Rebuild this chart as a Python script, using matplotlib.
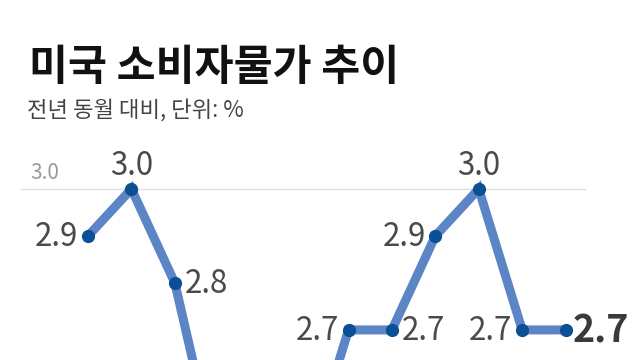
import matplotlib
matplotlib.use("Agg")
import matplotlib.pyplot as plt

plt.rcParams['font.family'] = ['Noto Sans CJK KR', 'DejaVu Sans']

# US CPI, year-on-year change (%)
months = ['24.12', '25.1', '25.2', '25.3', '25.4', '25.5',
          '25.6', '25.7', '25.8', '25.9', '25.11', '25.12']
cpi = [2.9, 3.0, 2.8, 2.4, 2.3, 2.4, 2.7, 2.7, 2.9, 3.0, 2.7, 2.7]
label_side = ['left', 'top', 'right', 'right', 'right', 'left',
              'left', 'right', 'left', 'top', 'left', 'right']
grid_values = [2.0, 2.5, 3.0]

line_color = '#5b85c5'
marker_color = '#0b4f95'
text_color = '#4a4a4a'

fig = plt.figure(figsize=(6.4, 3.6), dpi=100)
fig.patch.set_facecolor('white')

fig.text(29 / 640, 1 - 80 / 360, '미국 소비자물가 추이', fontsize=30.5,
         fontweight='bold', color='#111111', va='baseline')
fig.text(27 / 640, 1 - 117 / 360, '전년 동월 대비, 단위: %', fontsize=16,
         color='#444444', va='baseline')

ax = fig.add_axes([21 / 640, 0, 565 / 640, 210 / 360])
x = list(range(len(cpi)))
ax.plot(x, cpi, color=line_color, lw=6.5, solid_joinstyle='miter',
        solid_capstyle='butt', zorder=3)
ax.plot(x, cpi, 'o', color=marker_color, ms=8.5, zorder=4)

for g in grid_values:
    ax.axhline(g, color='#dddddd', lw=1, zorder=1)
ax.annotate('3.0', (9 / 565, 3.0), xycoords=ax.get_yaxis_transform(),
            xytext=(0, 7), textcoords='offset points',
            fontsize=15, color='#9a9a9a', fontweight='light', va='baseline')

ax.set_xlim(-1.544, 11.47)
ax.set_ylim(2.636, 3.083)
ax.axis('off')

for i, (v, side) in enumerate(zip(cpi, label_side)):
    last = i == len(cpi) - 1
    size = 27 if last else 22.5
    weight = 'bold' if last else 'medium'
    color = '#3a3a3a' if last else text_color
    if side == 'left':
        off, ha, va = (-7, -1), 'right', 'center'
    elif side == 'right':
        off, ha, va = (5 if last else 7, -1), 'left', 'center'
    else:
        off, ha, va = (0, 10), 'center', 'baseline'
    ax.annotate(f'{v:.1f}', (i, v), xytext=off, textcoords='offset points',
                ha=ha, va=va, fontsize=size, fontweight=weight, color=color,
                annotation_clip=True, zorder=5)

fig.savefig('out.png', dpi=100)
